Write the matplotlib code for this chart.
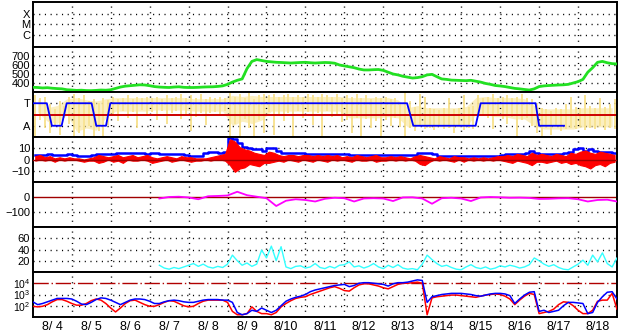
import numpy as np
import matplotlib
matplotlib.use("Agg")
import matplotlib.pyplot as plt

plt.rcParams['font.family'] = ['Liberation Sans', 'DejaVu Sans']
plt.rcParams['mathtext.fontset'] = 'custom'
plt.rcParams['mathtext.rm'] = 'Liberation Sans'

# ---- data (time in days from 8/4 00:00) ----
day_labels = ["8/ 4", "8/ 5", "8/ 6", "8/ 7", "8/ 8", "8/ 9", "8/10", "8/11",
              "8/12", "8/13", "8/14", "8/15", "8/16", "8/17", "8/18"]

# solar wind speed, 3-hourly from 8/4 00:00
speed = [352, 350, 345, 348, 342, 338, 335, 325,
         322, 318, 320, 316, 315, 318, 322, 320,
         325, 340, 355, 365, 370, 375, 380, 378,
         370, 360, 355, 352, 350, 355, 358, 352,
         350, 350, 352, 355, 357, 358, 362, 368,
         385, 410, 430, 445, 560, 640, 660, 650,
         640, 635, 630, 628, 625, 622, 625, 628,
         630, 625, 622, 625, 628, 626, 620, 600,
         590, 580, 570, 555, 545, 545, 548, 550,
         540, 520, 500, 490, 475, 465, 455, 460,
         470, 490, 496, 470, 445, 440, 432, 430,
         428, 426, 430, 420, 410, 395, 385, 372,
         367, 360, 350, 340, 335, 328, 322, 335,
         360, 368, 372, 375, 378, 380, 385, 400,
         415, 440, 520, 570, 630, 640, 625, 615, 612]

# IMF angle scatter (3-hour bins): upper / lower extent, T=1, A=-1
yellow_hi = [1.7, 1.5, 1.6, 0.9, 0.5, 1.2, 0.8, 1.6,
             1.8, 1.5, 1.7, 1.2, 1.4, 1.0, 1.5, 1.3,
             1.6, 1.4, 1.5, 1.7, 1.4, 1.6, 1.5, 1.6,
             1.5, 1.6, 1.4, 1.7, 1.5, 1.6, 1.8, 1.5,
             1.7, 1.5, 1.8, 1.4, 1.6, 1.5, 1.6, 1.5,
             1.9, 1.6, 1.8, 1.5, 1.9, 1.4, 1.7, 1.8,
             1.7, 1.8, 1.6, 1.7, 1.8, 1.6, 1.7, 1.6,
             1.8, 1.7, 1.6, 1.8, 1.7, 1.6, 1.8, 1.5,
             1.7, 1.6, 1.8, 1.5, 1.7, 1.4, 1.6, 1.5,
             1.6, 1.4, 1.5, 1.0, 1.9, 1.2, 0.7, 1.8,
             1.6, 0.6, 0.5, 0.4, 0.6, 1.5, 0.5, 0.6,
             1.7, 0.7, 0.8, 1.7, 1.5, 1.6, 1.8, 1.5,
             1.6, 1.7, 1.5, 1.6, 1.8, 1.5, 1.4, 1.0,
             0.6, 0.5, 0.3, 0.6, 0.5, 0.9, 1.6, 0.7,
             0.6, 1.7, 0.8, 0.6, 1.5, 0.7, 0.9, 1.4]
yellow_lo = [-1.9, -0.5, -1.2, -1.6, -1.0, -1.8, -0.3, -0.8,
             -1.9, -1.6, -2.0, -1.0, -1.9, -1.5, -2.0, -0.9,
             0.0, -0.6, 0.3, -0.3, 0.2, -1.2, 0.4, 0.0,
             0.2, -0.5, 0.3, -0.8, 0.1, 0.3, -0.4, 0.0,
             -1.5, -0.2, 0.1, -0.9, 0.1, 0.2, -0.1, 0.3,
             -2.0, -0.8, -1.9, -0.4, -1.2, -2.0, -0.5, -1.6,
             0.2, -1.8, 0.0, -0.6, 0.1, -2.0, 0.3, -0.3,
             0.2, -0.9, 0.1, -1.9, 0.3, -0.2, 0.0, -0.7,
             -0.5, -1.6, -0.3, -2.0, -0.4, -1.2, -0.6, -1.9,
             -0.5, -1.0, -0.3, -1.1, -1.9, -1.2, -1.5, -1.0,
             -1.3, -1.2, -1.4, -1.0, -1.3, -1.2, -1.6, -1.0,
             -1.4, -1.2, -1.3, -0.2, -0.1, -0.3, -1.3, 0.0,
             -0.4, -0.8, -0.2, -1.9, -0.5, -0.3, -1.0, -1.6,
             -1.9, -1.2, -1.8, -1.0, -1.5, -1.3, -1.2, -1.3,
             -1.1, -1.4, -1.2, -1.3, -1.0, -1.4, -1.2, -1.3]
# dense part of the scatter, 6-hour bins
core_hi = [1.4, 0.6, 0.8, 1.4, 1.5, 1.3, 1.2, 1.4,
           1.5, 1.5, 1.5, 1.5, 1.5, 1.5, 1.5, 1.5,
           1.4, 1.4, 1.4, 1.4, 1.7, 1.6, 1.7, 1.6,
           1.6, 1.6, 1.6, 1.6, 1.6, 1.6, 1.6, 1.6,
           1.5, 1.5, 1.5, 1.5, 1.5, 1.3, 0.6, 0.8,
           0.6, 0.6, 0.6, 0.6, 0.7, 1.5, 1.6, 1.5,
           1.5, 1.5, 1.4, 0.8, 0.5, 0.5, 0.5, 0.5,
           0.6, 0.6, 0.6, 0.6]
core_lo = [0.2, -0.6, -0.8, 0.0, -1.5, -1.2, -1.4, -0.3,
           0.3, 0.3, 0.3, 0.3, 0.4, 0.4, 0.4, 0.4,
           0.3, 0.3, 0.3, 0.3, -1.0, -0.6, -0.8, -0.5,
           0.3, 0.3, 0.3, 0.3, 0.3, 0.3, 0.3, 0.3,
           -0.3, -0.3, -0.3, -0.3, -0.2, -0.3, -1.1, -1.0,
           -1.1, -1.1, -1.1, -1.1, -1.1, 0.0, 0.0, -0.2,
           -0.2, -0.4, -0.4, -1.0, -1.3, -1.3, -1.3, -1.3,
           -1.1, -1.1, -1.1, -1.1]

# sector (T/A) switch points
sector_t = [0, 0.36, 0.49, 0.74, 0.87, 1.51, 1.63, 1.88, 1.99,
            9.61, 9.77, 11.37, 11.50, 12.91, 13.0, 13.64]
sector_v = [1, 1, -1, -1, 1, 1, -1, -1, 1, 1, -1, -1, 1, 1, -1, -1]

# Bt (blue) and Bz range (red), 3-hour bins, nT
bt = [4, 4, 4, 5, 4, 4, 4, 5,
      4, 3, 3, 3, 4, 5, 5, 5,
      5, 6, 6, 6, 6, 6, 6, 5,
      6, 6, 5, 5, 5, 5, 5, 4,
      3, 3, 3, 6, 7, 7, 6, 7,
      19, 18, 15, 11, 10, 9, 9, 8,
      10, 10, 8, 6, 6, 6, 6, 6,
      5, 5, 5, 5, 5, 5, 5, 5,
      5, 4, 4, 4, 4, 4, 4, 4,
      4, 4, 4, 4, 4, 4, 4, 6,
      6, 6, 5, 3, 3, 3, 3, 3,
      3, 3, 3, 3, 3, 3, 3, 3,
      4, 5, 5, 5, 5, 6, 8, 6,
      5, 5, 5, 5, 5, 6, 7, 9,
      10, 8, 9, 8, 7, 7, 7, 6]
bz_hi = [3, 4, 2, 3, 1, 2, 1, 2,
         1, 1, 0, 1, 2, 4, 3, 2,
         3, 4, 2, 3, 4, 2, 3, 4,
         2, 1, 2, 3, 2, 1, 3, 2,
         2, 1, 1, 1, 2, 3, 4, 5,
         18, 16, 11, 9, 8, 6, 5, 4,
         7, 6, 4, 3, 4, 4, 3, 4,
         4, 3, 4, 3, 4, 3, 4, 2,
         3, 2, 4, 3, 2, 3, 4, 2,
         2, 3, 2, 3, 2, 1, 3, 4,
         3, 2, 1, 3, 2, 1, 3, 2,
         2, 1, 2, 1, 2, 1, 2, 3,
         3, 4, 3, 5, 4, 3, 6, 4,
         5, 4, 3, 5, 4, 3, 6, 5,
         7, 8, 6, 5, 7, 6, 5, 4]
bz_lo = [-1, 0, -1, 0, -2, 0, -1, 0,
         0, -1, -2, -1, -1, -3, -2, 0,
         -2, -1, -3, 0, -1, -1, 0, -1,
         -3, -2, -1, 0, -2, -1, 0, -1,
         -2, -1, -1, 0, -1, 0, 0, -1,
         -5, -11, -8, -7, -4, -5, -6, -3,
         -3, -2, -1, -2, 0, -1, -2, 0,
         -1, -2, 0, -1, -2, 0, -1, 0,
         -1, -2, 0, -1, -1, 0, -2, -1,
         -1, 0, -1, 0, -1, 0, -1, -4,
         -5, -2, 0, -1, 0, -1, -2, 0,
         -2, 0, -1, 0, -1, 0, -1, 0,
         -1, -2, -3, -1, -2, -3, -5, -2,
         -2, -3, -2, -1, -3, -2, -4, -3,
         -5, -6, -8, -5, -4, -6, -3, -2]

# Dst, 6-hourly from 8/7 06:00
dst = [-10, 0, 2, -3, -15, 5, 7, 10,
       35, 12, 2, -8, -60, -25, -15, -20,
       -30, -12, -5, -8, -30, -10, -8, -10,
       -27, -3, -2, -10, -45, -8, -5, -10,
       -27, -3, 0, -2, -5, -4, -6, -13,
       -12, -9, -8, -15, -30, -20, -18, -30]

# cyan index, 3-hourly from 8/7 06:00
cyan = [12, 7, 5, 8, 6, 9, 12, 15, 10, 14, 9, 7, 10, 8, 14, 30,
        20, 12, 16, 10, 14, 39, 25, 46, 20, 45, 9, 6, 10, 11, 7, 9,
        15, 8, 6, 10, 7, 12, 13, 18, 9, 11, 7, 10, 15, 9, 6, 12,
        8, 13, 7, 5, 6, 4, 14, 30, 22, 15, 10, 12, 8, 5, 4, 9,
        13, 8, 6, 9, 5, 7, 11, 9, 12, 10, 7, 9, 13, 25, 20, 14,
        10, 13, 8, 5, 4, 9, 14, 21, 12, 30, 18, 34, 15, 9, 25]

# electron flux (log10), 3-hourly from 8/4 00:00
e_blue = [2.35, 2.1, 2.2, 2.35, 2.5, 2.65, 2.65, 2.65,
          2.6, 2.4, 2.15, 2.1, 2.3, 2.55, 2.7, 2.65,
          2.5, 2.3, 2.1, 2.3, 2.5, 2.6, 2.6, 2.55,
          2.4, 2.2, 2.2, 2.35, 2.45, 2.5, 2.45, 2.35,
          2.3, 2.3, 2.4, 2.5, 2.55, 2.55, 2.55, 2.5,
          2.5, 2.3, 1.4, 1.2, 1.3, 1.6, 1.5, 1.8,
          1.6, 1.4, 1.6, 2.0, 2.4, 2.6, 2.75, 2.85,
          3.0, 3.25, 3.4, 3.5, 3.6, 3.7, 3.8, 3.85,
          3.9, 3.7, 3.8, 4.0, 4.05, 4.05, 4.0, 3.95,
          3.9, 3.75, 3.95, 4.05, 4.05, 4.1, 4.2, 4.3,
          4.25, 2.3, 2.8, 2.9, 3.0, 3.05, 3.1, 3.1,
          3.1, 3.05, 3.0, 2.9, 2.85, 2.95, 3.05, 3.1,
          3.1, 3.05, 2.9, 2.2, 2.6, 2.95, 3.2, 3.25,
          1.5, 1.6, 1.4, 1.5, 1.6, 2.0, 2.3, 2.3,
          2.25, 2.2, 1.3, 1.4, 2.3, 2.8, 3.2, 3.25, 2.6]
e_red = [1.95, 1.9, 1.95, 2.1, 2.35, 2.55, 2.55, 2.4,
         2.2, 2.05, 2.05, 2.2, 2.45, 2.6, 2.5, 2.2,
         1.8, 1.45, 1.8, 2.2, 2.45, 2.5, 2.3, 2.1,
         1.95, 1.95, 2.1, 2.3, 2.45, 2.4, 2.2, 2.0,
         1.9, 1.95, 2.2, 2.4, 2.5, 2.5, 2.5, 2.5,
         2.3, 1.5, 1.2, 1.2, 1.3, 1.9, 1.5, 1.3,
         1.3, 1.2, 1.4, 1.9, 2.2, 2.45, 2.65, 2.75,
         2.8, 3.0, 3.15, 3.3, 3.45, 3.6, 3.7, 3.55,
         3.35, 3.3, 3.6, 3.85, 3.95, 3.95, 3.85, 3.75,
         3.6, 3.5, 3.7, 3.9, 4.0, 4.0, 4.05, 4.1,
         4.0, 1.2, 2.7, 2.8, 2.85, 2.9, 2.95, 2.95,
         2.9, 2.85, 2.8, 2.75, 2.85, 2.95, 3.0, 3.05,
         3.0, 2.85, 2.6, 2.1, 2.5, 2.85, 3.1, 3.0,
         1.3, 1.4, 1.5, 1.7, 2.1, 2.35, 2.3, 2.0,
         1.6, 1.3, 1.3, 1.6, 2.4, 2.5, 2.5, 3.1, 1.7]

# ---- figure ----
W_PX, H_PX = 628, 334
fig = plt.figure(figsize=(W_PX / 100, H_PX / 100), dpi=100)
left_px, right_px, top_px, panel_px = 32.8, 617.0, 2.0, 45.0

dot = (0, (0.8, 3.3))
axes = []
for i in range(7):
    y0 = 1 - (top_px + (i + 1) * panel_px) / H_PX
    ax = fig.add_axes([left_px / W_PX, y0, (right_px - left_px) / W_PX, panel_px / H_PX])
    ax.set_xlim(0, 15)
    ax.set_xticks(np.arange(1, 15))
    ax.xaxis.grid(True, color='k', linestyle=dot, linewidth=1.0)
    ax.tick_params(axis='x', which='both', length=0, labelbottom=False)
    ax.tick_params(axis='y', which='both', length=0, labelsize=8, pad=2)
    for s in ax.spines.values():
        s.set_linewidth(1.4)
    axes.append(ax)

def hgrid(ax, levels):
    for v in levels:
        ax.axhline(v, color='k', linestyle=dot, linewidth=1.0, zorder=0.5)

t3 = np.arange(120) * 0.125 + 0.0625
t6 = np.arange(60) * 0.25 + 0.125
t_pts = np.arange(121) * 0.125

# X-ray flare class
ax = axes[0]
ax.set_ylim(-0.14, 4.14)
ax.set_yticks([1, 2, 3])
ax.set_yticklabels(['C', 'M', 'X'])
hgrid(ax, [1, 2, 3])

# solar wind speed
ax = axes[1]
ax.set_ylim(300, 800)
ax.set_yticks([400, 500, 600, 700])
hgrid(ax, [400, 500, 600, 700])
ax.plot(t_pts[:len(speed)], speed, color='#22e022', linewidth=2.0, zorder=3)

# sector
ax = axes[2]
ax.set_ylim(-2, 2)
ax.set_yticks([-1, 1])
ax.set_yticklabels(['A', 'T'])
hgrid(ax, [-1, 1])
ax.vlines(t3, yellow_lo, yellow_hi, color='#f7de80', linewidth=1.2, zorder=1)
ax.fill_between(t6, core_lo, core_hi, color='#f9e597', linewidth=0, alpha=0.6, zorder=1)
ax.axhline(0, color='#cc0000', linewidth=1.4, zorder=2)
ax.plot(sector_t, sector_v, color='#0000ff', linewidth=1.3, zorder=3)

# Bt / Bz
ax = axes[3]
ax.set_ylim(-20, 20)
ax.set_yticks([-10, 0, 10])
hgrid(ax, [-10, 10])
ax.step(t3, bt, where='mid', color='#0000ff', linewidth=1.8, zorder=2)
ax.fill_between(t3, bz_lo, bz_hi, color='#ff0000', linewidth=0.8, edgecolor='#ff0000', zorder=3)
ax.axhline(0, color='#a00000', linewidth=1.0, zorder=4)

# Dst
ax = axes[4]
ax.set_ylim(-200, 100)
ax.set_yticks([-100, 0])
hgrid(ax, [-100])
ax.axhline(0, color='#a00000', linewidth=1.0, zorder=2)
t_dst = 3.25 + 0.25 * np.arange(len(dst))
ax.plot(t_dst, dst, color='#ff00ff', linewidth=1.3, zorder=3)

# cyan index
ax = axes[5]
ax.set_ylim(0, 80)
ax.set_yticks([20, 40, 60])
hgrid(ax, [20, 40, 60])
t_cy = 3.25 + 0.125 * np.arange(len(cyan))
ax.plot(t_cy, cyan, color='#33ffff', linewidth=1.0, zorder=3)

# electron flux
ax = axes[6]
ax.set_yscale('log')
ax.set_ylim(10, 1e5)
ax.set_yticks([1e2, 1e3, 1e4])
ax.set_yticklabels([r'$\mathregular{10^2}$', r'$\mathregular{10^3}$', r'$\mathregular{10^4}$'])
ax.minorticks_off()
ax.tick_params(axis='y', which='both', length=0, labelsize=7.5)
hgrid(ax, [1e2, 1e3])
ax.axhline(1e4, color='#b00000', linestyle=(0, (11, 2, 1, 2)), linewidth=1.0, zorder=2)
ax.plot(t_pts[:len(e_red)], 10 ** np.array(e_red), color='#ff0000', linewidth=1.1, zorder=3)
ax.plot(t_pts[:len(e_blue)], 10 ** np.array(e_blue), color='#0000ff', linewidth=1.1, zorder=3)
ax.set_xticks(np.arange(15) + 0.5, minor=True)
ax.set_xticklabels(day_labels, minor=True)
ax.tick_params(axis='x', which='minor', length=0, labelbottom=True, labelsize=9, pad=3)

fig.savefig('out.png', dpi=100)
